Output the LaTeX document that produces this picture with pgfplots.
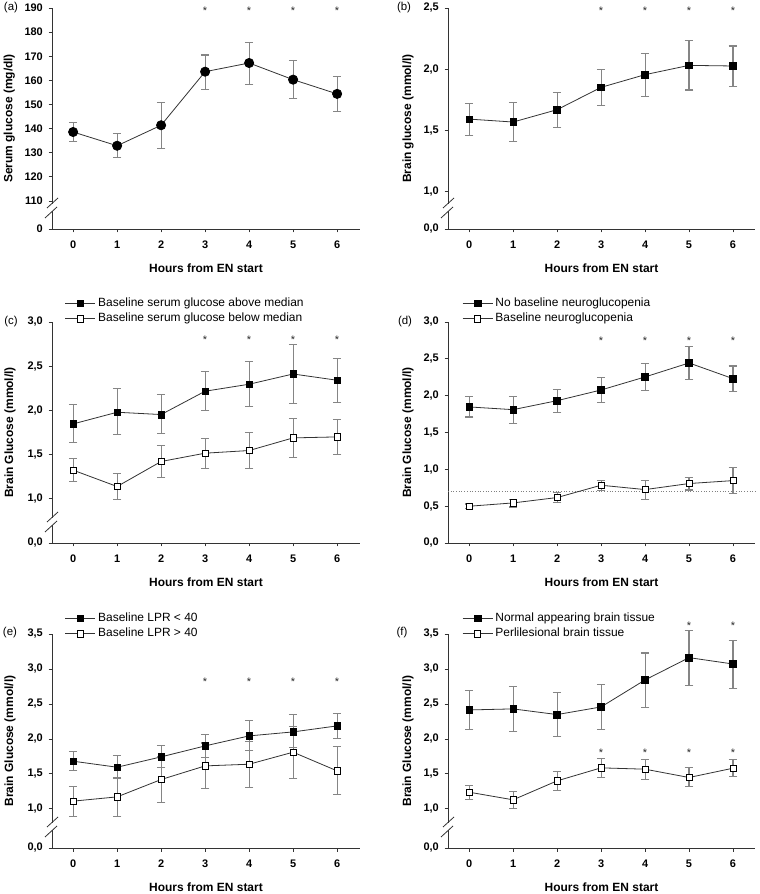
\documentclass[border=0pt]{standalone}
\usepackage{pgfplots}
\pgfplotsset{compat=1.18}
\usepackage{fontspec}
\setmainfont{Liberation Sans}
\definecolor{errgray}{HTML}{858585}
\definecolor{linegray}{HTML}{333333}
\pgfplotsset{
 base/.style={
  scale only axis, clip=false,
  axis lines=left, axis line style={-, line width=0.9bp, linegray},
  xmin=-0.48, xtick={0,1,2,3,4,5,6}, xticklabels={0,1,2,3,4,5,6},
  tick align=outside, major tick length=3.5bp,
  tick style={linegray, line width=0.8bp},
  tick label style={font=\bfseries\fontsize{11}{13}\selectfont},
  xticklabel style={yshift=-5bp},
  yticklabel style={inner sep=0pt, xshift=-5.5bp},
  every axis x label/.style={at={(axis description cs:0.5,0)}, anchor=center, yshift=-39bp, font=\bfseries\fontsize{12}{14}\selectfont},
  every axis y label/.style={rotate=90, anchor=center, font=\bfseries\fontsize{12}{14}\selectfont},
  xlabel={Hours from EN start},
  legend style={draw=none, fill=none, inner sep=0pt, outer sep=0pt, row sep=3bp, column sep=2bp, font=\fontsize{12}{14}\selectfont, anchor=south west, nodes={inner sep=0.5bp, text height=8.8bp, text depth=2.6bp}},
  legend cell align=left,
  legend image code/.code={\draw[mark repeat=2,mark phase=2,##1] plot coordinates {(0bp,0bp) (15bp,0bp) (30bp,0bp)};},
 },
 ser/.style={color=linegray, line width=0.8bp,
   error bars/y dir=both, error bars/y explicit,
   error bars/error bar style={errgray, line width=1.1bp},
   error bars/error mark options={rotate=90, mark size=4.3bp, errgray, line width=1.1bp}},
 filled/.style={ser, mark=square*, mark size=3.3bp, mark options={solid, fill=black, draw=black, line width=0.6bp}},
 open/.style={ser, mark=square*, mark size=3.1bp, mark options={solid, fill=white, draw=black, line width=0.7bp}},
 dot/.style={ser, mark=*, mark size=4.6bp, mark options={solid, fill=black, draw=black}},
 stars/.style={forget plot, draw=none, mark=none, nodes near coords={*}, nodes near coords align=center, every node near coord/.append style={font=\fontsize{11}{13}\selectfont, yshift=-2.5bp, inner sep=0pt, text=black!85}},
}
\newcommand{\brk}[1]{%
 \draw[white, line width=3bp] ([yshift=18bp]#1.south west) -- ([yshift=25bp]#1.south west);
 \draw[linegray, line width=0.8bp] ([xshift=-7bp,yshift=11bp]#1.south west) -- ([xshift=5bp,yshift=22bp]#1.south west);
 \draw[linegray, line width=0.8bp] ([xshift=-5bp,yshift=21bp]#1.south west) -- ([xshift=6bp,yshift=31bp]#1.south west);
}
\begin{document}
\begin{tikzpicture}
\path[use as bounding box] (0,0) rectangle (760bp,894bp);
% (a)
\begin{axis}[base, name=pa, at={(52bp,665bp)}, anchor=south west, width=308bp, height=221bp,
  xmax=6.52, ymin=98.4, ymax=190,
  ytick={98.4,110,120,130,140,150,160,170,180,190}, yticklabels={0,110,120,130,140,150,160,170,180,190},
  ylabel={Serum glucose (mg/dl)}, ylabel style={at={(axis description cs:-0.139,0.5)}}]
\addplot[dot] table[x=x,y=y,y error plus=ep,y error minus=em] {
x y ep em
0 138.6 4.0 3.9
1 132.9 5.1 4.9
2 141.4 9.4 9.6
3 163.6 6.9 7.2
4 167.2 8.6 8.8
5 160.3 7.9 7.7
6 154.4 7.3 7.2
};
\addplot[stars] coordinates {(3,190) (4,190) (5,190) (6,190)};
\end{axis}
\brk{pa}
\node[font=\fontsize{11.5}{13}\selectfont] at (11bp,886bp) {(a)};
% (b)
\begin{axis}[base, name=pb, at={(448bp,665bp)}, anchor=south west, width=307bp, height=221bp,
  xmax=6.5, ymin=0.69, ymax=2.5,
  ytick={0.69,1,1.5,2,2.5}, yticklabels={{0,0},{1,0},{1,5},{2,0},{2,5}},
  ylabel={Brain glucose (mmol/l)}, ylabel style={at={(axis description cs:-0.13,0.5)}}]
\addplot[filled] table[x=x,y=y,y error plus=ep,y error minus=em] {
x y ep em
0 1.590 0.126 0.131
1 1.566 0.161 0.162
2 1.667 0.142 0.145
3 1.850 0.145 0.145
4 1.954 0.174 0.178
5 2.030 0.202 0.202
6 2.025 0.164 0.167
};
\addplot[stars] coordinates {(3,2.5) (4,2.5) (5,2.5) (6,2.5)};
\end{axis}
\brk{pb}
\node[font=\fontsize{11.5}{13}\selectfont] at (404bp,886bp) {(b)};
% (c)
\begin{axis}[base, name=pc, at={(52bp,351bp)}, anchor=south west, width=308bp, height=221bp,
  xmax=6.52, ymin=0.5, ymax=3.0,
  ytick={0.5,1,1.5,2,2.5,3}, yticklabels={{0,0},{1,0},{1,5},{2,0},{2,5},{3,0}},
  ylabel={Brain Glucose (mmol/l)}, ylabel style={at={(axis description cs:-0.136,0.5)}},
  legend style={at={(axis description cs:0.042,0.986)}}]
\addplot[filled] table[x=x,y=y,y error plus=ep,y error minus=em] {
x y ep em
0 1.847 0.215 0.207
1 1.979 0.268 0.256
2 1.953 0.226 0.219
3 2.217 0.218 0.223
4 2.296 0.259 0.256
5 2.412 0.336 0.339
6 2.341 0.249 0.256
};
\addlegendentry{Baseline serum glucose above median}
\addplot[open] table[x=x,y=y,y error plus=ep,y error minus=em] {
x y ep em
0 1.324 0.128 0.132
1 1.139 0.143 0.150
2 1.422 0.181 0.177
3 1.516 0.166 0.170
4 1.546 0.204 0.200
5 1.689 0.215 0.218
6 1.700 0.200 0.203
};
\addlegendentry{Baseline serum glucose below median}
\addplot[stars] coordinates {(3,2.83) (4,2.83) (5,2.83) (6,2.83)};
\end{axis}
\brk{pc}
\node[font=\fontsize{11.5}{13}\selectfont] at (11bp,572bp) {(c)};
% (d)
\begin{axis}[base, name=pd, at={(448bp,351bp)}, anchor=south west, width=307bp, height=221bp,
  xmax=6.5, ymin=0, ymax=3.0,
  ytick={0,0.5,1,1.5,2,2.5,3}, yticklabels={{0,0},{0,5},{1,0},{1,5},{2,0},{2,5},{3,0}},
  ylabel={Brain Glucose (mmol/l)}, ylabel style={at={(axis description cs:-0.13,0.5)}},
  legend style={at={(axis description cs:0.046,0.986)}}]
\addplot[forget plot, gray, dotted, line width=0.7bp] coordinates {(-0.48,0.7) (6.5,0.7)};
\addplot[filled] table[x=x,y=y,y error plus=ep,y error minus=em] {
x y ep em
0 1.847 0.140 0.136
1 1.810 0.180 0.191
2 1.932 0.149 0.157
3 2.077 0.172 0.172
4 2.254 0.185 0.181
5 2.444 0.221 0.226
6 2.231 0.172 0.172
};
\addlegendentry{No baseline neuroglucopenia}
\addplot[open] table[x=x,y=y,y error plus=ep,y error minus=em] {
x y ep em
0 0.499 0.030 0.030
1 0.544 0.049 0.055
2 0.617 0.068 0.073
3 0.784 0.068 0.068
4 0.725 0.127 0.132
5 0.807 0.087 0.087
6 0.847 0.181 0.181
};
\addlegendentry{Baseline neuroglucopenia}
\addplot[stars] coordinates {(3,2.78) (4,2.78) (5,2.78) (6,2.78)};
\end{axis}
\node[font=\fontsize{11.5}{13}\selectfont] at (405bp,572bp) {(d)};
% (e)
\begin{axis}[base, name=pe, at={(52bp,46bp)}, anchor=south west, width=308bp, height=214bp,
  xmax=6.52, ymin=0.44, ymax=3.5,
  ytick={0.44,1,1.5,2,2.5,3,3.5}, yticklabels={{0,0},{1,0},{1,5},{2,0},{2,5},{3,0},{3,5}},
  ylabel={Brain Glucose (mmol/l)}, ylabel style={at={(axis description cs:-0.136,0.5)}},
  legend style={at={(axis description cs:0.042,0.9715)}}]
\addplot[filled] table[x=x,y=y,y error plus=ep,y error minus=em] {
x y ep em
0 1.681 0.133 0.138
1 1.595 0.167 0.166
2 1.743 0.157 0.157
3 1.900 0.162 0.167
4 2.043 0.214 0.205
5 2.100 0.247 0.229
6 2.186 0.181 0.186
};
\addlegendentry{Baseline LPR < 40}
\addplot[open] table[x=x,y=y,y error plus=ep,y error minus=em] {
x y ep em
0 1.110 0.214 0.214
1 1.171 0.281 0.285
2 1.419 0.330 0.330
3 1.614 0.328 0.328
4 1.638 0.330 0.330
5 1.810 0.370 0.370
6 1.543 0.347 0.339
};
\addlegendentry{Baseline LPR > 40}
\addplot[stars] coordinates {(3,2.86) (4,2.86) (5,2.86) (6,2.86)};
\end{axis}
\brk{pe}
\node[font=\fontsize{11.5}{13}\selectfont] at (10bp,261bp) {(e)};
% (f)
\begin{axis}[base, name=pf, at={(448bp,46bp)}, anchor=south west, width=307bp, height=214bp,
  xmax=6.5, ymin=0.44, ymax=3.5,
  ytick={0.44,1,1.5,2,2.5,3,3.5}, yticklabels={{0,0},{1,0},{1,5},{2,0},{2,5},{3,0},{3,5}},
  ylabel={Brain Glucose (mmol/l)}, ylabel style={at={(axis description cs:-0.13,0.5)}},
  legend style={at={(axis description cs:0.046,0.9715)}}]
\addplot[filled] table[x=x,y=y,y error plus=ep,y error minus=em] {
x y ep em
0 2.414 0.276 0.276
1 2.429 0.323 0.324
2 2.348 0.319 0.315
3 2.457 0.319 0.319
4 2.843 0.386 0.391
5 3.162 0.390 0.400
6 3.071 0.339 0.347
};
\addlegendentry{Normal appearing brain tissue}
\addplot[open] table[x=x,y=y,y error plus=ep,y error minus=em] {
x y ep em
0 1.238 0.100 0.105
1 1.129 0.114 0.124
2 1.400 0.138 0.133
3 1.586 0.133 0.134
4 1.567 0.143 0.143
5 1.448 0.138 0.134
6 1.581 0.129 0.124
};
\addlegendentry{Perlilesional brain tissue}
\addplot[stars] coordinates {(5,3.66) (6,3.66)};
\addplot[stars] coordinates {(3,1.84) (4,1.84) (5,1.84) (6,1.84)};
\end{axis}
\brk{pf}
\node[font=\fontsize{11.5}{13}\selectfont] at (402bp,261bp) {(f)};
\end{tikzpicture}
\end{document}
